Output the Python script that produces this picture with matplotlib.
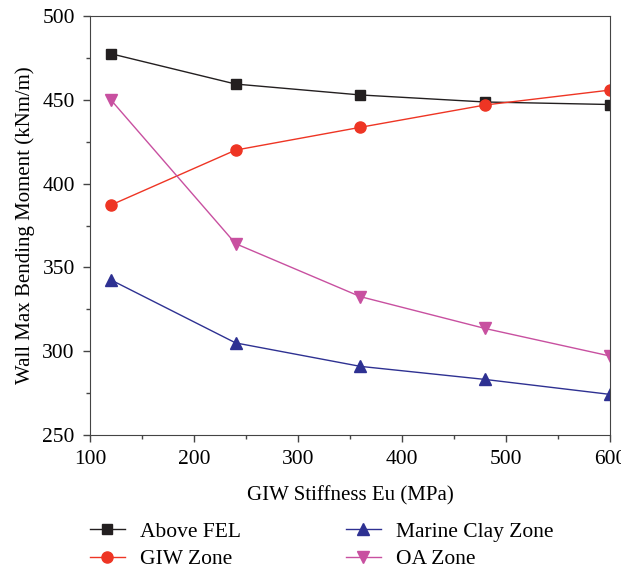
import matplotlib.pyplot as plt
from matplotlib.ticker import MultipleLocator

plt.rcParams['font.family'] = 'Liberation Serif'

stiffness = [120, 240, 360, 480, 600]
above_fel = [477.5, 459.4, 452.9, 448.7, 447.2]
giw_zone = [387.2, 420.0, 433.6, 446.9, 455.8]
marine_clay = [342.6, 305.0, 291.0, 283.2, 274.3]
oa_zone = [450.0, 364.2, 332.6, 313.6, 297.2]

fig = plt.figure(figsize=(6.21, 5.71), dpi=100)
ax = fig.add_axes([0.145, 0.238, 0.837, 0.734])

ax.plot(stiffness, above_fel, color='#231f20', marker='s', ms=7, lw=1, label='Above FEL')
ax.plot(stiffness, giw_zone, color='#ee3524', marker='o', ms=8, lw=1, label='GIW Zone')
ax.plot(stiffness, marine_clay, color='#2e3192', marker='^', ms=9, lw=1, label='Marine Clay Zone')
ax.plot(stiffness, oa_zone, color='#c850a0', marker='v', ms=9, lw=1, label='OA Zone')

ax.set_xlim(100, 600)
ax.set_ylim(250, 500)
ax.xaxis.set_major_locator(MultipleLocator(100))
ax.xaxis.set_minor_locator(MultipleLocator(50))
ax.yaxis.set_major_locator(MultipleLocator(50))
ax.yaxis.set_minor_locator(MultipleLocator(25))
ax.tick_params(which='major', length=5, width=1, labelsize=15.5, color='#444444', pad=6)
ax.tick_params(which='minor', length=3, width=1, color='#444444')
for s in ax.spines.values():
    s.set_color('#444444')

ax.set_xlabel('GIW Stiffness Eu (MPa)', fontsize=15, labelpad=12)
ax.set_ylabel('Wall Max Bending Moment (kNm/m)', fontsize=15, labelpad=5)

h, l = ax.get_legend_handles_labels()
fig.legend(h, l, ncol=2, loc='upper left', bbox_to_anchor=(0.114, 0.12),
           frameon=False, fontsize=15.5, columnspacing=4.9, handlelength=1.6,
           handletextpad=0.7, labelspacing=0.33)

fig.savefig('out.png')
